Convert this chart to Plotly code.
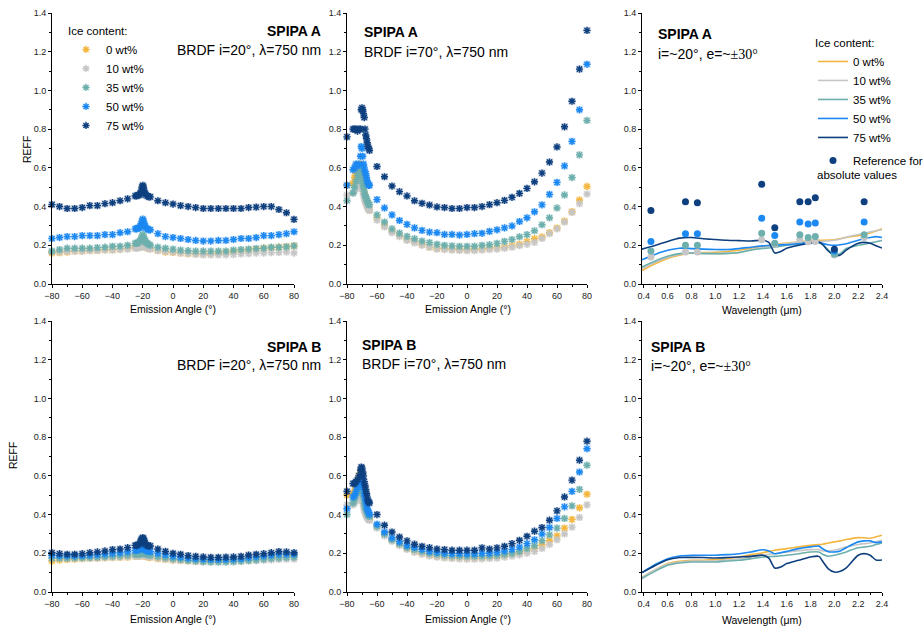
import plotly.graph_objects as go

W, H = 923, 628
FONT = "Liberation Sans, Arial, sans-serif"

LEVELS = ["0 wt%", "10 wt%", "35 wt%", "50 wt%", "75 wt%"]
COLORS = ["#F3B63F", "#C6C6C6", "#6DAFAD", "#1C88F2", "#0E3F7E"]

# ---------------- BRDF i=20 deg (emission angle) ----------------
ANG20 = [-80, -75, -70, -65, -60, -55, -50, -45, -40, -35, -30, -25,
         -24, -23, -22, -21.5, -21, -20.5, -20, -19.5, -19, -18.5, -18, -17, -16,
         -15, -10, -5, 0, 5, 10, 15, 20, 25, 30, 35, 40, 45, 50, 55, 60, 65, 70, 75, 80]

A20_0 = ([0.16, 0.162, 0.165, 0.17, 0.17, 0.173, 0.173, 0.177, 0.177, 0.18, 0.185, 0.19]
         + [0.19, 0.19, 0.192, 0.193, 0.195, 0.198, 0.2, 0.198, 0.195, 0.193, 0.19, 0.187, 0.185]
         + [0.182, 0.173, 0.165, 0.163, 0.16, 0.157, 0.157, 0.157, 0.157, 0.16, 0.163, 0.168, 0.17,
            0.177, 0.18, 0.185, 0.187, 0.19, 0.193, 0.197])
A20_10 = ([0.165, 0.165, 0.168, 0.17, 0.17, 0.172, 0.172, 0.175, 0.175, 0.178, 0.18, 0.185]
          + [0.185, 0.187, 0.19, 0.192, 0.195, 0.2, 0.205, 0.2, 0.195, 0.192, 0.19, 0.187, 0.185]
          + [0.18, 0.172, 0.168, 0.165, 0.16, 0.157, 0.153, 0.15, 0.15, 0.15, 0.15, 0.152, 0.155,
             0.157, 0.16, 0.16, 0.162, 0.163, 0.165, 0.16])
A20_35 = ([0.17, 0.178, 0.185, 0.185, 0.185, 0.185, 0.188, 0.19, 0.195, 0.195, 0.2, 0.21]
          + [0.21, 0.215, 0.22, 0.225, 0.235, 0.245, 0.255, 0.245, 0.235, 0.225, 0.215, 0.21, 0.205]
          + [0.2, 0.19, 0.185, 0.18, 0.175, 0.172, 0.17, 0.17, 0.17, 0.17, 0.17, 0.175, 0.178,
             0.18, 0.183, 0.185, 0.19, 0.19, 0.192, 0.197])
A20_50 = ([0.235, 0.24, 0.245, 0.245, 0.25, 0.25, 0.25, 0.255, 0.255, 0.265, 0.27, 0.285]
          + [0.285, 0.29, 0.29, 0.3, 0.31, 0.325, 0.335, 0.325, 0.31, 0.3, 0.29, 0.285, 0.28]
          + [0.28, 0.26, 0.245, 0.24, 0.235, 0.23, 0.225, 0.222, 0.222, 0.225, 0.225, 0.23, 0.235,
             0.235, 0.24, 0.25, 0.25, 0.255, 0.26, 0.27])
A20_75 = ([0.41, 0.4, 0.39, 0.39, 0.395, 0.405, 0.405, 0.415, 0.42, 0.43, 0.44, 0.455]
          + [0.455, 0.46, 0.46, 0.47, 0.48, 0.5, 0.51, 0.5, 0.48, 0.47, 0.46, 0.455, 0.45]
          + [0.45, 0.43, 0.42, 0.413, 0.405, 0.4, 0.395, 0.39, 0.39, 0.39, 0.39, 0.39, 0.39,
             0.395, 0.397, 0.4, 0.4, 0.385, 0.368, 0.334])

B20_0 = ([0.16, 0.165, 0.168, 0.17, 0.172, 0.174, 0.175, 0.177, 0.178, 0.179, 0.18, 0.185]
         + [0.185, 0.186, 0.187, 0.188, 0.189, 0.19, 0.192, 0.19, 0.188, 0.186, 0.185, 0.183, 0.18]
         + [0.178, 0.172, 0.168, 0.165, 0.163, 0.161, 0.16, 0.16, 0.16, 0.161, 0.163, 0.165, 0.168,
            0.172, 0.175, 0.178, 0.182, 0.185, 0.188, 0.19])
B20_10 = ([0.175, 0.174, 0.173, 0.173, 0.174, 0.175, 0.176, 0.177, 0.178, 0.18, 0.182, 0.185]
          + [0.185, 0.186, 0.187, 0.188, 0.19, 0.192, 0.195, 0.192, 0.19, 0.188, 0.186, 0.185, 0.183]
          + [0.18, 0.175, 0.17, 0.165, 0.162, 0.16, 0.157, 0.155, 0.155, 0.155, 0.155, 0.156, 0.158,
             0.16, 0.162, 0.164, 0.166, 0.168, 0.17, 0.17])
B20_35 = ([0.175, 0.175, 0.175, 0.176, 0.177, 0.178, 0.18, 0.182, 0.185, 0.187, 0.19, 0.195]
          + [0.195, 0.196, 0.197, 0.198, 0.2, 0.202, 0.205, 0.202, 0.2, 0.198, 0.196, 0.195, 0.192]
          + [0.19, 0.183, 0.177, 0.172, 0.168, 0.163, 0.16, 0.157, 0.155, 0.155, 0.155, 0.157, 0.16,
             0.163, 0.166, 0.17, 0.173, 0.176, 0.178, 0.18])
B20_50 = ([0.19, 0.188, 0.187, 0.187, 0.188, 0.19, 0.193, 0.196, 0.2, 0.203, 0.208, 0.215]
          + [0.215, 0.218, 0.22, 0.225, 0.23, 0.232, 0.235, 0.232, 0.225, 0.22, 0.215, 0.212, 0.21]
          + [0.208, 0.2, 0.193, 0.185, 0.18, 0.175, 0.172, 0.17, 0.168, 0.168, 0.168, 0.17, 0.172,
             0.178, 0.182, 0.186, 0.19, 0.195, 0.196, 0.195])
B20_75 = ([0.203, 0.198, 0.195, 0.195, 0.198, 0.203, 0.207, 0.212, 0.219, 0.222, 0.229, 0.241]
          + [0.24, 0.245, 0.25, 0.26, 0.27, 0.275, 0.281, 0.275, 0.265, 0.255, 0.245, 0.24, 0.238]
          + [0.238, 0.222, 0.21, 0.2, 0.195, 0.188, 0.184, 0.181, 0.179, 0.179, 0.18, 0.181, 0.184,
             0.191, 0.195, 0.198, 0.203, 0.209, 0.207, 0.203])

# ---------------- BRDF i=70 deg (emission angle) ----------------
ANG70 = [-80, -76, -75, -74, -73, -72, -71, -70.5, -70, -69.5, -69, -68.5, -68, -67.5, -67,
         -66.5, -66, -65.5, -65,
         -60, -55, -50, -45, -40, -35, -30, -25, -20, -15, -10, -5, 0, 5, 10, 15, 20, 25, 30,
         35, 40, 45, 50, 55, 60, 65, 70, 75, 80]

A70_0 = ([0.51, 0.52, 0.55, 0.57, 0.59, 0.61, 0.62, 0.58, 0.55, 0.52, 0.5, 0.47, 0.45, 0.43, 0.42,
          0.41, 0.4, 0.39, 0.38]
         + [0.342, 0.303, 0.273, 0.25, 0.232, 0.219, 0.205, 0.19, 0.185, 0.183, 0.181, 0.178, 0.178,
            0.18, 0.181, 0.185, 0.188, 0.19, 0.198, 0.205, 0.219, 0.234, 0.243, 0.265, 0.289, 0.325,
            0.374, 0.434, 0.504])
A70_10 = ([0.46, 0.47, 0.48, 0.49, 0.5, 0.52, 0.53, 0.52, 0.5, 0.48, 0.46, 0.44, 0.43, 0.42, 0.41,
           0.4, 0.39, 0.385, 0.38]
          + [0.33, 0.295, 0.265, 0.245, 0.225, 0.212, 0.2, 0.19, 0.18, 0.178, 0.175, 0.173, 0.172,
             0.172, 0.175, 0.178, 0.18, 0.185, 0.19, 0.198, 0.205, 0.215, 0.235, 0.26, 0.285, 0.32,
             0.37, 0.415, 0.465])
A70_35 = ([0.43, 0.47, 0.5, 0.53, 0.56, 0.58, 0.6, 0.56, 0.54, 0.52, 0.5, 0.48, 0.46, 0.45, 0.44,
           0.43, 0.42, 0.41, 0.41]
          + [0.357, 0.32, 0.285, 0.263, 0.246, 0.234, 0.222, 0.214, 0.205, 0.2, 0.197, 0.195, 0.195,
             0.195, 0.2, 0.203, 0.21, 0.22, 0.23, 0.244, 0.255, 0.275, 0.306, 0.342, 0.393, 0.46,
             0.55, 0.667, 0.845])
A70_50 = ([0.51, 0.59, 0.6, 0.62, 0.61, 0.62, 0.66, 0.71, 0.7, 0.66, 0.62, 0.6, 0.58, 0.57, 0.55,
           0.53, 0.52, 0.51, 0.51]
          + [0.436, 0.393, 0.357, 0.328, 0.308, 0.29, 0.277, 0.268, 0.265, 0.256, 0.256, 0.253, 0.256,
             0.26, 0.262, 0.272, 0.28, 0.29, 0.3, 0.323, 0.342, 0.373, 0.409, 0.463, 0.525, 0.61,
             0.737, 0.9, 1.135])
A70_75 = ([0.76, 0.8, 0.8, 0.8, 0.79, 0.8, 0.8, 0.9, 0.91, 0.9, 0.88, 0.86, 0.8, 0.77, 0.75, 0.73,
           0.71, 0.7, 0.69]
          + [0.607, 0.554, 0.506, 0.477, 0.455, 0.43, 0.417, 0.408, 0.398, 0.395, 0.39, 0.39, 0.395,
             0.395, 0.4, 0.41, 0.42, 0.432, 0.448, 0.468, 0.494, 0.528, 0.573, 0.63, 0.708, 0.812,
             0.944, 1.11, 1.31])

B70_0 = ([0.5, 0.51, 0.52, 0.54, 0.57, 0.6, 0.62, 0.6, 0.57, 0.53, 0.5, 0.47, 0.44, 0.42, 0.41,
          0.4, 0.39, 0.38, 0.375]
         + [0.34, 0.3, 0.27, 0.245, 0.225, 0.21, 0.2, 0.19, 0.185, 0.18, 0.178, 0.177, 0.176, 0.176,
            0.177, 0.18, 0.183, 0.188, 0.195, 0.203, 0.215, 0.225, 0.243, 0.265, 0.29, 0.33, 0.375,
            0.435, 0.505])
B70_10 = ([0.45, 0.45, 0.46, 0.47, 0.48, 0.49, 0.5, 0.49, 0.48, 0.46, 0.44, 0.42, 0.41, 0.4, 0.39,
           0.385, 0.38, 0.375, 0.37]
          + [0.33, 0.29, 0.262, 0.24, 0.22, 0.205, 0.195, 0.186, 0.18, 0.176, 0.173, 0.171, 0.17,
             0.17, 0.171, 0.173, 0.175, 0.18, 0.185, 0.192, 0.2, 0.21, 0.225, 0.245, 0.27, 0.3,
             0.335, 0.385, 0.45])
B70_35 = ([0.4, 0.46, 0.48, 0.5, 0.52, 0.54, 0.56, 0.55, 0.53, 0.51, 0.49, 0.46, 0.44, 0.43, 0.42,
           0.41, 0.4, 0.395, 0.39]
          + [0.34, 0.3, 0.27, 0.25, 0.23, 0.22, 0.21, 0.2, 0.195, 0.19, 0.188, 0.186, 0.185, 0.185,
             0.186, 0.188, 0.19, 0.195, 0.2, 0.21, 0.225, 0.24, 0.265, 0.295, 0.33, 0.38, 0.445,
             0.53, 0.655])
B70_50 = ([0.43, 0.49, 0.5, 0.52, 0.54, 0.56, 0.59, 0.6, 0.59, 0.57, 0.54, 0.51, 0.49, 0.47, 0.45,
           0.43, 0.42, 0.41, 0.4]
          + [0.35, 0.31, 0.28, 0.26, 0.24, 0.23, 0.22, 0.21, 0.205, 0.2, 0.198, 0.198, 0.197, 0.197,
             0.2, 0.2, 0.205, 0.212, 0.22, 0.232, 0.25, 0.27, 0.3, 0.333, 0.38, 0.44, 0.52, 0.62,
             0.74])
B70_75 = ([0.52, 0.56, 0.56, 0.57, 0.58, 0.6, 0.63, 0.645, 0.64, 0.62, 0.6, 0.57, 0.55, 0.53, 0.51,
           0.49, 0.47, 0.465, 0.46]
          + [0.4, 0.345, 0.31, 0.284, 0.264, 0.247, 0.236, 0.229, 0.222, 0.219, 0.216, 0.216, 0.216,
             0.216, 0.228, 0.222, 0.228, 0.236, 0.25, 0.267, 0.288, 0.314, 0.333, 0.371, 0.419,
             0.491, 0.578, 0.681, 0.779])

# ---------------- Spectra (wavelength) ----------------
WL = [0.385, 0.5, 0.6, 0.7, 0.8, 0.9, 1.0, 1.1, 1.2, 1.3, 1.4, 1.45, 1.5, 1.55, 1.6, 1.7, 1.8,
      1.87, 1.9, 1.95, 2.0, 2.05, 2.1, 2.2, 2.25, 2.3, 2.35, 2.4]

SA_0 = [0.07, 0.106, 0.132, 0.149, 0.16, 0.162, 0.164, 0.168, 0.174, 0.185, 0.195, 0.2, 0.205,
        0.208, 0.212, 0.217, 0.226, 0.226, 0.226, 0.227, 0.229, 0.234, 0.24, 0.25, 0.256, 0.263,
        0.274, 0.285]
SA_10 = [0.08, 0.113, 0.137, 0.152, 0.16, 0.159, 0.157, 0.158, 0.162, 0.178, 0.188, 0.194, 0.2,
         0.205, 0.209, 0.215, 0.219, 0.219, 0.22, 0.223, 0.226, 0.233, 0.243, 0.256, 0.262, 0.268,
         0.275, 0.28]
SA_35 = [0.088, 0.12, 0.143, 0.157, 0.16, 0.157, 0.157, 0.158, 0.163, 0.175, 0.183, 0.186, 0.19,
         0.195, 0.2, 0.205, 0.212, 0.213, 0.205, 0.175, 0.152, 0.158, 0.183, 0.2, 0.205, 0.212,
         0.218, 0.225]
SA_50 = [0.125, 0.154, 0.174, 0.185, 0.183, 0.18, 0.178, 0.178, 0.183, 0.19, 0.197, 0.199, 0.2,
         0.202, 0.203, 0.209, 0.215, 0.215, 0.21, 0.203, 0.2, 0.203, 0.208, 0.226, 0.234, 0.24,
         0.245, 0.24]
SA_75 = [0.18, 0.2, 0.22, 0.237, 0.24, 0.234, 0.23, 0.226, 0.224, 0.222, 0.226, 0.215, 0.16,
         0.168, 0.185, 0.2, 0.212, 0.217, 0.205, 0.17, 0.147, 0.15, 0.175, 0.21, 0.215, 0.21,
         0.198, 0.186]

SB_0 = [0.075, 0.116, 0.147, 0.159, 0.164, 0.164, 0.167, 0.172, 0.181, 0.193, 0.203, 0.21, 0.216,
        0.22, 0.224, 0.233, 0.241, 0.245, 0.247, 0.253, 0.259, 0.264, 0.271, 0.281, 0.28, 0.278,
        0.285, 0.293]
SB_10 = [0.075, 0.116, 0.143, 0.155, 0.16, 0.16, 0.16, 0.165, 0.172, 0.181, 0.19, 0.195, 0.198,
         0.202, 0.207, 0.213, 0.219, 0.219, 0.212, 0.213, 0.216, 0.224, 0.233, 0.245, 0.25, 0.253,
         0.26, 0.267]
SB_35 = [0.07, 0.109, 0.138, 0.15, 0.155, 0.155, 0.155, 0.16, 0.164, 0.172, 0.181, 0.183, 0.184,
         0.187, 0.19, 0.198, 0.207, 0.207, 0.195, 0.185, 0.19, 0.198, 0.207, 0.229, 0.232, 0.236,
         0.245, 0.253]
SB_50 = [0.1, 0.143, 0.172, 0.186, 0.19, 0.19, 0.19, 0.193, 0.198, 0.207, 0.218, 0.212, 0.198,
         0.203, 0.21, 0.224, 0.233, 0.237, 0.224, 0.208, 0.207, 0.212, 0.229, 0.259, 0.264, 0.264,
         0.255, 0.259]
SB_75 = [0.1, 0.138, 0.167, 0.178, 0.179, 0.178, 0.176, 0.178, 0.181, 0.184, 0.19, 0.175, 0.124,
         0.129, 0.147, 0.164, 0.181, 0.184, 0.16, 0.12, 0.103, 0.107, 0.125, 0.19, 0.198, 0.19,
         0.165, 0.165]

# Reference points for absolute values (SPIPA A)
REF_WL = [0.46, 0.75, 0.85, 1.39, 1.5, 1.71, 1.78, 1.84, 2.0, 2.25]
REF_10 = [0.14, 0.165, 0.165, 0.228, 0.205, 0.23, 0.218, 0.22, 0.15, 0.24]
REF_35 = [0.17, 0.2, 0.2, 0.262, 0.21, 0.255, 0.24, 0.245, 0.155, 0.255]
REF_50 = [0.22, 0.26, 0.26, 0.34, 0.25, 0.32, 0.31, 0.315, 0.17, 0.32]
REF_75 = [0.38, 0.425, 0.42, 0.515, 0.29, 0.425, 0.425, 0.445, 0.18, 0.425]

# ---------------- Layout geometry (pixels) ----------------
COLS = [(52, 294), (347, 587), (642, 882)]
ROWS = [(13, 284), (321, 592)]


def px(x):
    return x / W


def py(y):
    return 1 - y / H


fig = go.Figure()

axis_common = dict(showline=True, linecolor="black", linewidth=1, ticks="outside",
                   ticklen=3, tickwidth=1, tickcolor="black", showgrid=False,
                   zeroline=False, mirror=False, automargin=False,
                   tickfont=dict(family=FONT, size=9, color="#222"))

layout_axes = {}
for i in range(6):
    r, c = divmod(i, 3)
    n = "" if i == 0 else str(i + 1)
    xa = dict(axis_common, domain=[px(COLS[c][0]), px(COLS[c][1])], anchor="y" + n)
    ya = dict(axis_common, domain=[py(ROWS[r][1]), py(ROWS[r][0])], anchor="x" + n,
              range=[0, 1.4], dtick=0.2, tick0=0, tickformat=".1f",
              minor=dict(dtick=0.1, ticklen=2, tickcolor="black", ticks="outside"))
    if c < 2:
        xa.update(range=[-80, 80], dtick=20, tick0=0,
                  minor=dict(dtick=10, ticklen=2, tickcolor="black", ticks="outside"))
    else:
        xa.update(range=[0.385, 2.4], dtick=0.2, tick0=0.4, tickformat=".1f",
                  minor=dict(dtick=0.1, tick0=0.4, ticklen=2, tickcolor="black", ticks="outside"))
    layout_axes["xaxis" + n] = xa
    layout_axes["yaxis" + n] = ya


def add_markers(ang, series, panel, legend):
    n = "" if panel == 1 else str(panel)
    for name, col, ys in zip(LEVELS, COLORS, series):
        # soft square halo (as in the antialiased original symbols)
        fig.add_trace(go.Scatter(
            x=ang, y=ys, mode="markers", name=name, cliponaxis=False,
            marker=dict(symbol="square", size=7, color=col, opacity=0.25,
                        line=dict(width=0)),
            xaxis="x" + n, yaxis="y" + n, hoverinfo="skip",
            showlegend=False, legend="legend"))
        fig.add_trace(go.Scatter(
            x=ang, y=ys, mode="markers", name=name, cliponaxis=False,
            marker=dict(symbol="asterisk-open", size=6, color=col,
                        line=dict(width=1.4, color=col)),
            xaxis="x" + n, yaxis="y" + n,
            showlegend=legend, legend="legend"))


add_markers(ANG20, [A20_0, A20_10, A20_35, A20_50, A20_75], 1, True)
add_markers(ANG70, [A70_0, A70_10, A70_35, A70_50, A70_75], 2, False)
add_markers(ANG20, [B20_0, B20_10, B20_35, B20_50, B20_75], 4, False)
add_markers(ANG70, [B70_0, B70_10, B70_35, B70_50, B70_75], 5, False)


def add_lines(series, panel, legend):
    n = str(panel)
    for k, (name, col, ys) in enumerate(zip(LEVELS, COLORS, series)):
        fig.add_trace(go.Scatter(
            x=WL, y=ys, mode="lines", name=name,
            line=dict(color=col, width=1.6, shape="spline", smoothing=0.8),
            xaxis="x" + n, yaxis="y" + n,
            showlegend=legend, legend="legend2", legendrank=k + 1,
            legendgroup="spec"))


add_lines([SA_0, SA_10, SA_35, SA_50, SA_75], 3, True)

ref_sets = [(REF_10, COLORS[1]), (REF_35, COLORS[2]), (REF_50, COLORS[3]), (REF_75, COLORS[4])]
for k, (ys, col) in enumerate(ref_sets):
    last = k == len(ref_sets) - 1
    fig.add_trace(go.Scatter(
        x=REF_WL, y=ys, mode="markers", name="Reference for",
        marker=dict(symbol="circle", size=7, color=col),
        xaxis="x3", yaxis="y3", cliponaxis=False,
        showlegend=last, legend="legend2", legendrank=10, legendgroup="ref"))

add_lines([SB_0, SB_10, SB_35, SB_50, SB_75], 6, False)

# ---------------- Annotations ----------------
ann = []


def text(x, y, t, size=14, xanchor="left", angle=0):
    ann.append(dict(text=t, x=px(x), y=py(y), xref="paper", yref="paper",
                    xanchor=xanchor, yanchor="middle", showarrow=False, textangle=angle,
                    font=dict(family=FONT, size=size, color="black")))


SERIF = "<span style='font-family:Liberation Serif, Times New Roman, serif'>±30°</span>"
text(323, 31, "<b>SPIPA A</b>", xanchor="right")
text(323, 50, "BRDF i=20°, λ=750 nm", xanchor="right")
text(362, 32, "<b>SPIPA A</b>")
text(362, 52, "BRDF i=70°, λ=750 nm")
text(656, 34, "<b>SPIPA A</b>")
text(656, 54, "i=~20°, e=~" + SERIF)
text(323, 347, "<b>SPIPA B</b>", xanchor="right")
text(323, 365, "BRDF i=20°, λ=750 nm", xanchor="right")
text(360, 345, "<b>SPIPA B</b>")
text(360, 364, "BRDF i=70°, λ=750 nm")
text(649, 347, "<b>SPIPA B</b>")
text(649, 366, "i=~20°, e=~" + SERIF)
text(815, 175, "absolute values", size=11.5)

for yy in (309, 619):
    text(173, yy, "Emission Angle (°)", size=10.5, xanchor="center")
    text(468, yy, "Emission Angle (°)", size=10.5, xanchor="center")
    text(762, yy + 1, "Wavelength (μm)", size=10.5, xanchor="center")
text(27, 150, "REFF", size=10.5, xanchor="center", angle=-90)
text(13, 456, "REFF", size=10.5, xanchor="center", angle=-90)

fig.update_layout(
    width=W, height=H, margin=dict(l=0, r=0, t=0, b=0, autoexpand=False),
    paper_bgcolor="white", plot_bgcolor="white",
    font=dict(family=FONT, size=11, color="black"),
    annotations=ann,
    legend=dict(x=px(66), y=py(20), xanchor="left", yanchor="top",
                bgcolor="rgba(0,0,0,0)", font=dict(family=FONT, size=11.5),
                title=dict(text="Ice content:", font=dict(family=FONT, size=11.5)),
                tracegroupgap=0, borderwidth=0),
    legend2=dict(x=px(813), y=py(32), xanchor="left", yanchor="top",
                 bgcolor="rgba(0,0,0,0)", font=dict(family=FONT, size=11.5),
                 title=dict(text="Ice content:", font=dict(family=FONT, size=11.5)),
                 tracegroupgap=4, borderwidth=0),
    **layout_axes,
)

POST = ("document.body.style.margin='0';document.body.style.padding='0';"
        "document.body.style.overflow='hidden';"
        "document.documentElement.style.overflow='hidden';"
        "window.dispatchEvent(new Event('resize'));")

fig.write_html("out.html", post_script=POST, config={"displayModeBar": False})
